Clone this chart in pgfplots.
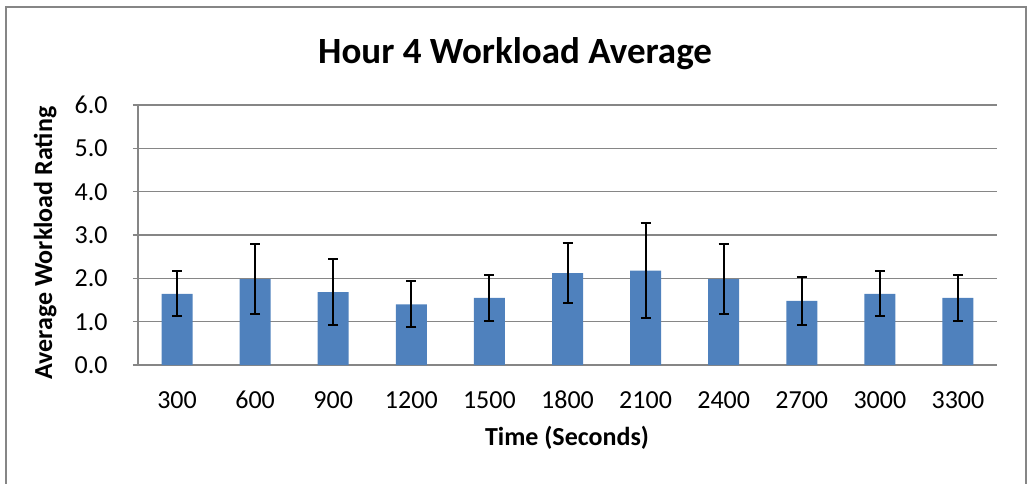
\documentclass[border=0pt]{standalone}
\usepackage{pgfplots}
\pgfplotsset{compat=1.18}
\usepackage{fontspec}
\setmainfont{Carlito}
\definecolor{barblue}{RGB}{79,129,189}
\definecolor{gridgray}{RGB}{134,134,134}

\begin{document}
\begin{tikzpicture}
% image is 1029x483 px, 1 px = 0.5pt
\useasboundingbox (0,0) rectangle (514.5pt,241.5pt);
\draw[gridgray, line width=1pt] (3pt,-10pt) rectangle (513pt,238pt);

\begin{axis}[
  at={(69pt,59pt)}, anchor=south west,
  scale only axis,
  width=429.5pt, height=130pt,
  xmin=-0.5, xmax=10.5,
  ymin=0, ymax=6,
  xtick={0,...,10},
  xticklabels={300,600,900,1200,1500,1800,2100,2400,2700,3000,3300},
  ytick={0,1,...,6},
  axis x line*=bottom, axis y line*=left,
  axis line style={gridgray, line width=0.8pt},
  ymajorgrids, grid style={gridgray, line width=0.6pt},
  tick align=outside,
  major tick length=2.5pt,
  xtick style={draw=none},
  ytick style={gridgray, line width=0.6pt},
  tick label style={font=\fontsize{13}{15}\selectfont},
  /pgf/number format/assume math mode=true,
  yticklabel={\pgfmathprintnumber[fixed,precision=1,zerofill]{\tick}},
  yticklabel style={inner sep=0pt, anchor=east, xshift=-12.5pt},
  xticklabel style={inner sep=0pt, anchor=base, yshift=-19pt},
  title={Hour 4 Workload Average},
  title style={font=\bfseries\fontsize{18.5}{22}\selectfont, at={(axis description cs:0.439,1.15)}, anchor=center},
  xlabel={Time (Seconds)},
  xlabel style={font=\bfseries\fontsize{13}{15}\selectfont, at={(axis description cs:0.4994,-0.281)}, anchor=center},
  ylabel={Average Workload Rating},
  ylabel style={font=\bfseries\fontsize{13}{15}\selectfont, at={(axis description cs:-0.108,0.469)}, anchor=center, rotate=0},
]
\addplot[ybar, bar width=15.5pt, fill=barblue, draw=none,
  error bars/.cd, y dir=both, y explicit,
  error bar style={black, line width=1pt},
  error mark options={rotate=90, black, line width=1pt, mark size=2.5pt}]
  table[x=x, y=y, y error=e] {
x y e
0 1.64 0.52
1 1.98 0.81
2 1.68 0.76
3 1.40 0.53
4 1.55 0.53
5 2.12 0.69
6 2.18 1.09
7 1.98 0.81
8 1.48 0.55
9 1.64 0.52
10 1.55 0.53
};
\end{axis}
\end{tikzpicture}
\end{document}
